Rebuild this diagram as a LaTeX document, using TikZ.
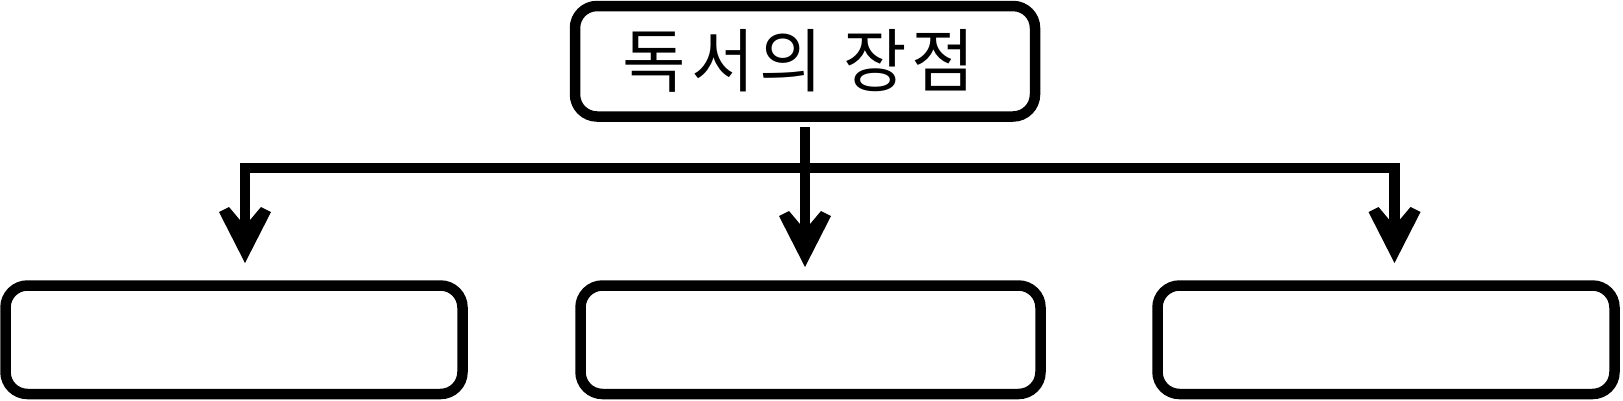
\documentclass[tikz,border=0pt]{standalone}
\usepackage{fontspec}
\newfontfamily\kr[LetterSpace=7]{Noto Sans CJK KR}
\begin{document}
\begin{tikzpicture}[x=1pt,y=-1pt,
  box/.style={draw, line width=10.5pt, rounded corners=22pt, inner sep=0pt, outer sep=0pt, minimum height=108.5pt},
  conn/.style={line width=10.5pt, line join=miter, miter limit=10},
  head/.style={fill=black}]
\useasboundingbox (0,0) rectangle (1623,400);
\node[box, minimum width=460pt, minimum height=110.5pt, font=\kr\fontsize{69}{69}\selectfont] (top) at (805,61.25) {독서의 장점\kern12pt};
\node[box, minimum width=457pt] (lb) at (234,339.75) {};
\node[box, minimum width=460pt] (mb) at (810.5,339.75) {};
\node[box, minimum width=457pt] (rb) at (1386,339.75) {};
\coordinate (lc) at (245,168);
\coordinate (rc) at (1394.5,168);
\coordinate (lt) at (245,263);
\coordinate (rt) at (1394.5,263);
\coordinate (mt) at (805,267);
\draw[conn] ([shift={(0,-25)}]lt) -- (lc) -- (rc) -- ([shift={(0,-25)}]rt);
\draw[conn, shorten <=10.5pt] (top.south) -- ([shift={(0,-25)}]mt);
\foreach \t in {lt,rt,mt}
  \fill[head] (\t) -- ([shift={(-26,-51)}]\t) -- ([shift={(-16,-56)}]\t) -- ([shift={(0,-37)}]\t)
     -- ([shift={(16,-56)}]\t) -- ([shift={(26,-51)}]\t) -- cycle;
\end{tikzpicture}
\end{document}
